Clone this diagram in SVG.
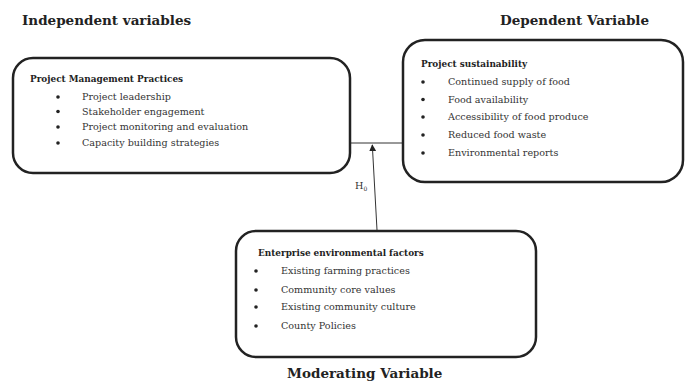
<svg xmlns="http://www.w3.org/2000/svg" width="697" height="383" viewBox="0 0 697 383">
<defs>
<style>
text{font-family:"DejaVu Serif",serif}
.box{fill:#fff;stroke:#222;stroke-width:2.5}
.title{font-weight:bold;font-size:13.5px;fill:#222}
.hd{font-weight:bold;font-size:8.9px;fill:#222}
.it{font-size:9.6px;fill:#333}
.bul{fill:#222}
.conn{stroke:#333;stroke-width:1;fill:none}
</style>
<marker id="arr" viewBox="0 0 10 10" refX="9" refY="5" markerWidth="7" markerHeight="7" orient="auto" markerUnits="userSpaceOnUse">
<path d="M0,0 L10,5 L0,10 z" fill="#222"/>
</marker>
</defs>
<rect width="697" height="383" fill="#fff"/>
<text class="title" x="22" y="25">Independent variables</text>
<text class="title" x="500" y="25">Dependent Variable</text>
<text class="title" x="287" y="378">Moderating Variable</text>
<g id="connectors">
<line class="conn" x1="350" y1="143" x2="402" y2="143"/>
<line class="conn" x1="377" y1="230" x2="372.3" y2="145" marker-end="url(#arr)"/>
<text class="it" x="355" y="189">H<tspan font-size="6" dy="2">0</tspan></text>
</g>
<g id="independent">
<rect class="box" x="13" y="58" width="337" height="115" rx="20"/>
<text class="hd" x="30" y="82">Project Management Practices</text>
<g class="bul"><circle cx="58" cy="97" r="1.8"/><circle cx="58" cy="111.5" r="1.8"/><circle cx="58" cy="127" r="1.8"/><circle cx="58" cy="143" r="1.8"/></g>
<text class="it" x="82" y="100">Project leadership</text>
<text class="it" x="82" y="115">Stakeholder engagement</text>
<text class="it" x="82" y="130">Project monitoring and evaluation</text>
<text class="it" x="82" y="146">Capacity building strategies</text>
</g>
<g id="dependent">
<rect class="box" x="403" y="40" width="280" height="142" rx="22"/>
<text class="hd" x="421" y="67">Project sustainability</text>
<g class="bul"><circle cx="423" cy="82" r="1.8"/><circle cx="423" cy="99.5" r="1.8"/><circle cx="423" cy="117" r="1.8"/><circle cx="423" cy="135" r="1.8"/><circle cx="423" cy="153" r="1.8"/></g>
<text class="it" x="448" y="85">Continued supply of food</text>
<text class="it" x="448" y="103">Food availability</text>
<text class="it" x="448" y="120">Accessibility of food produce</text>
<text class="it" x="448" y="138">Reduced food waste</text>
<text class="it" x="448" y="156">Environmental reports</text>
</g>
<g id="moderating">
<rect class="box" x="236" y="231" width="300" height="126" rx="20"/>
<text class="hd" x="258" y="256">Enterprise environmental factors</text>
<g class="bul"><circle cx="256" cy="271" r="1.8"/><circle cx="256" cy="290" r="1.8"/><circle cx="256" cy="307" r="1.8"/><circle cx="256" cy="326" r="1.8"/></g>
<text class="it" x="281" y="274">Existing farming practices</text>
<text class="it" x="281" y="293">Community core values</text>
<text class="it" x="281" y="310">Existing community culture</text>
<text class="it" x="281" y="329">County Policies</text>
</g>
</svg>
